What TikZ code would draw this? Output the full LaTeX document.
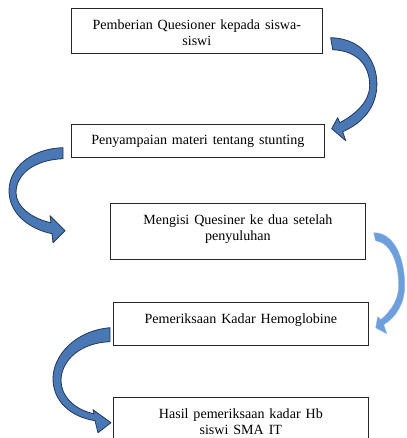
\documentclass[tikz,border=0pt]{standalone}
\usepackage{fontspec}
\setmainfont{Liberation Serif}
\definecolor{panahisi}{HTML}{4A78B4}
\definecolor{panahtepi}{HTML}{22395C}
\definecolor{panahmuda}{HTML}{6E9FDD}
% isi kotak: lebar, tinggi, teks (rata atas)
\newcommand{\isikotak}[3]{\parbox[c][#2][t]{#1}{\centering\spaceskip=4.2pt plus 1pt\vspace{9.5pt}#3\par}}

\begin{document}
\begin{tikzpicture}[x=0.03cm, y=-0.03cm]
\tikzset{kotak/.style={draw=black!85, line width=0.6pt, inner sep=0pt, anchor=north west, font=\fontsize{12}{14}\selectfont},
panah/.style={fill=panahisi, draw=panahtepi, line width=0.7pt, line join=round},
panahtipis/.style={fill=panahmuda, draw=panahmuda!85, line width=0.3pt, line join=round}}
\useasboundingbox (0,0) rectangle (406,438);
\clip (0,0) rectangle (406,438);
\node[kotak] (K1) at (71,8) {\isikotak{7.53cm}{1.35cm}{Pemberian Quesioner kepada siswa-\\siswi}};
\node[kotak] (K2) at (71,124) {\isikotak{7.59cm}{0.99cm}{Penyampaian materi tentang stunting}};
\node[kotak] (K3) at (110,203) {\isikotak{7.65cm}{1.68cm}{Mengisi Quesiner ke dua setelah\\penyuluhan}};
\node[kotak] (K4) at (113,302) {\isikotak{7.65cm}{1.29cm}{Pemeriksaan Kadar Hemoglobine}};
\node[kotak] (K5) at (113,397) {\isikotak{7.65cm}{1.8cm}{Hasil pemeriksaan kadar Hb\\siswi SMA IT}};
% panah lengkung
\begin{scope}[shift={(K1.south east)}]
\draw[panah] (8,-16) .. controls (43,-15) and (56,12) .. (54,35) .. controls (52,55) and (40,69) .. (20,78) -- (23,87) -- (9,75) -- (15,64) -- (17,69) .. controls (34,60) and (47,47) .. (47,32) .. controls (47,12) and (35,-3) .. (10,-4) -- cycle;
\end{scope}
\begin{scope}[shift={(K2.south west)}]
\draw[panah] (-8,-10) .. controls (-41,-9) and (-62,11) .. (-62,33) .. controls (-62,55) and (-43,71) .. (-19,76) -- (-18,85) -- (-6,73) -- (-21,58) -- (-20,65) .. controls (-39,61) and (-55,49) .. (-55,35) .. controls (-55,16) and (-36,2) .. (-8,1) -- cycle;
\end{scope}
\begin{scope}[shift={(K3.south east)}]
\draw[panahtipis] (8,-27) .. controls (30,-27) and (39,1) .. (39,26) .. controls (39,43) and (31,57) .. (18,65) -- (21,74) -- (10,68) -- (12,57) -- (15,60) .. controls (26,51) and (33,39) .. (33,26) .. controls (33,3) and (25,-17) .. (10,-19) -- cycle;
\end{scope}
\begin{scope}[shift={(K4.south west)}]
\draw[panah] (-3,-18) .. controls (-38,-15) and (-60,10) .. (-60,33) .. controls (-60,55) and (-43,71) .. (-18,75) -- (-15,87) -- (-2,77) -- (-20,64) -- (-19,68) .. controls (-39,64) and (-52,50) .. (-52,35) .. controls (-52,15) and (-33,-3) .. (-3,-4) -- cycle;
\end{scope}
\end{tikzpicture}
\end{document}
